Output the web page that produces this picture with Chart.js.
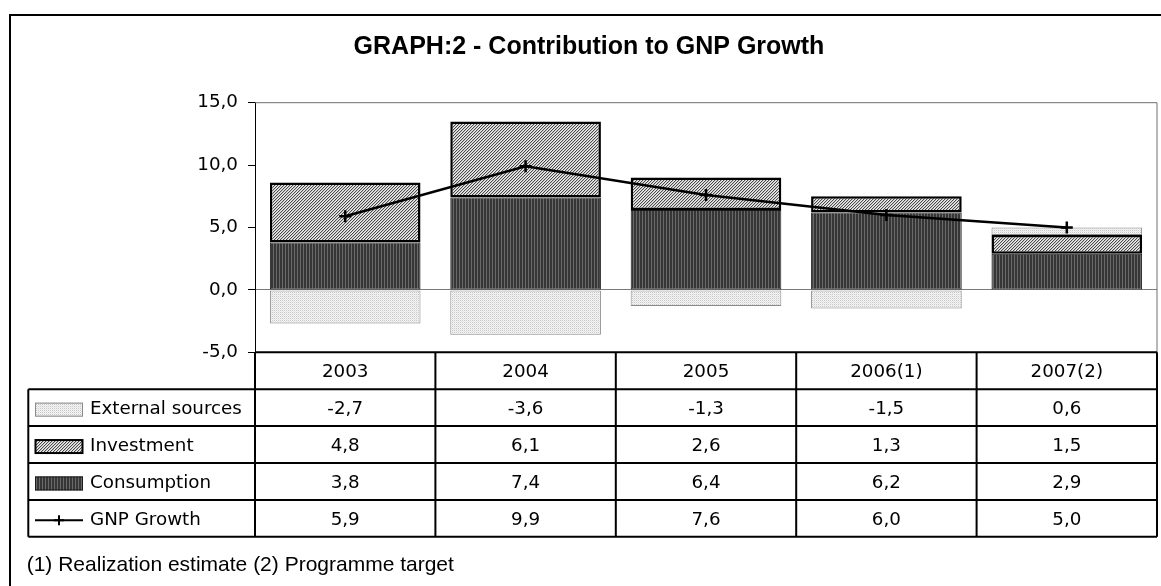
<!DOCTYPE html>
<html>
<head>
<meta charset="utf-8">
<script src="https://cdn.jsdelivr.net/npm/chart.js@4/dist/chart.umd.min.js"></script>
<style>
  html, body { margin: 0; padding: 0; background: #fff; }
  #wrap { position: relative; width: 1161px; height: 586px; }
</style>
</head>
<body>
<div id="wrap"><canvas id="c"></canvas></div>
<script>
// Contribution to GNP growth, percentage points
const categories = ['2003', '2004', '2005', '2006(1)', '2007(2)'];
const externalSources = [-2.7, -3.6, -1.3, -1.5, 0.6];
const investment = [4.8, 6.1, 2.6, 1.3, 1.5];
const consumption = [3.8, 7.4, 6.4, 6.2, 2.9];
const gnpGrowth = [5.9, 9.9, 7.6, 6.0, 5.0];
const yTickValues = [-5, 0, 5, 10, 15];

const chartTitle = 'GRAPH:2 - Contribution to GNP Growth';
const footnote = '(1) Realization estimate (2) Programme target';

const fmt = v => v.toFixed(1).replace('.', ',');
const TABLE_FONT = '18.3px "DejaVu Sans", Verdana, sans-serif';

// small repeating fills in the style of old spreadsheet charts
function pattern(w, h, paint) {
  const c = document.createElement('canvas');
  c.width = w; c.height = h;
  const g = c.getContext('2d');
  paint(g);
  return document.createElement('canvas').getContext('2d').createPattern(c, 'repeat');
}
const px = (g, x, y, col) => { g.fillStyle = col; g.fillRect(x, y, 1, 1); };

const consumptionFill = pattern(3, 1, g => {
  px(g, 0, 0, '#6a6a6a'); px(g, 1, 0, '#363636'); px(g, 2, 0, '#363636');
});
const investmentFill = pattern(3, 3, g => {
  for (let y = 0; y < 3; y++) for (let x = 0; x < 3; x++) {
    const k = (x + y) % 3;
    px(g, x, y, k === 0 ? '#4a4a4a' : k === 1 ? '#c4c4c4' : '#ececec');
  }
});
const externalFill = pattern(2, 2, g => {
  px(g, 0, 0, '#c8c8c8'); px(g, 1, 0, '#f4f4f4');
  px(g, 0, 1, '#f4f4f4'); px(g, 1, 1, '#e6e6e6');
});

const styles = {
  ext: { fill: externalFill, border: '#8a8a8a', bw: 1 },
  inv: { fill: investmentFill, border: '#000', bw: 2.5 },
  con: { fill: consumptionFill, border: '#1a1a1a', bw: 1 }
};

const tableRows = [
  { label: 'External sources', values: externalSources, key: 'ext' },
  { label: 'Investment', values: investment, key: 'inv' },
  { label: 'Consumption', values: consumption, key: 'con' },
  { label: 'GNP Growth', values: gnpGrowth, key: 'line' }
];

function drawCross(ctx, x, y, r) {
  ctx.beginPath();
  ctx.moveTo(x - r, y); ctx.lineTo(x + r, y);
  ctx.moveTo(x, y - r); ctx.lineTo(x, y + r);
  ctx.stroke();
}

const framePlugin = {
  id: 'frameAndTable',
  beforeDraw(chart) {
    const ctx = chart.ctx;
    ctx.save();
    ctx.fillStyle = '#fff';
    ctx.fillRect(0, 0, chart.width, chart.height);
    ctx.restore();
  },
  afterDraw(chart) {
    const ctx = chart.ctx, a = chart.chartArea, xs = chart.scales.x;
    ctx.save();

    // outer frame
    ctx.strokeStyle = '#000';
    ctx.lineWidth = 2;
    ctx.strokeRect(10, 15, 1170, 600);

    // title
    ctx.fillStyle = '#000';
    ctx.font = 'bold 25px "Liberation Sans", Arial, sans-serif';
    ctx.textAlign = 'center';
    ctx.textBaseline = 'middle';
    ctx.fillText(chartTitle, 589, 47);

    // plot area border (top and right)
    ctx.strokeStyle = '#6e6e6e';
    ctx.lineWidth = 1;
    ctx.beginPath();
    ctx.moveTo(a.left, a.top); ctx.lineTo(a.right, a.top); ctx.lineTo(a.right, a.bottom);
    ctx.stroke();

    // data table
    const rowH = 36.9;
    const top = a.bottom;
    const tableLeft = 28.3;
    const half = (xs.getPixelForValue(1) - xs.getPixelForValue(0)) / 2;
    const bottom = top + rowH * (tableRows.length + 1);

    ctx.strokeStyle = '#000';
    ctx.lineWidth = 2;
    ctx.beginPath();
    ctx.moveTo(a.left, top); ctx.lineTo(a.right, top);
    for (let r = 1; r <= tableRows.length + 1; r++) {
      const y = top + rowH * r;
      ctx.moveTo(tableLeft, y); ctx.lineTo(a.right, y);
    }
    ctx.moveTo(tableLeft, top + rowH); ctx.lineTo(tableLeft, bottom);
    ctx.moveTo(a.left, top); ctx.lineTo(a.left, bottom);
    categories.forEach((c, i) => {
      const xr = xs.getPixelForValue(i) + half;
      ctx.moveTo(xr, top); ctx.lineTo(xr, bottom);
    });
    ctx.stroke();

    ctx.font = TABLE_FONT;
    ctx.fillStyle = '#000';
    ctx.textAlign = 'center';
    ctx.textBaseline = 'middle';
    categories.forEach((c, i) => {
      ctx.fillText(c, xs.getPixelForValue(i), top + rowH / 2 + 2);
    });

    tableRows.forEach((row, r) => {
      const cy = top + rowH * (r + 1) + rowH / 2 + 2;
      // legend key
      if (row.key === 'line') {
        ctx.strokeStyle = '#000';
        ctx.lineWidth = 2;
        ctx.beginPath(); ctx.moveTo(35, cy); ctx.lineTo(83, cy); ctx.stroke();
        drawCross(ctx, 59, cy, 5);
      } else {
        const s = styles[row.key];
        ctx.fillStyle = s.fill;
        ctx.fillRect(35, cy - 7, 48, 14);
        ctx.strokeStyle = s.border;
        ctx.lineWidth = s.bw === 1 ? 1 : 2;
        ctx.strokeRect(35.5, cy - 6.5, 47, 13);
      }
      ctx.fillStyle = '#000';
      ctx.textAlign = 'left';
      ctx.fillText(row.label, 90, cy);
      ctx.textAlign = 'center';
      row.values.forEach((v, i) => ctx.fillText(fmt(v), xs.getPixelForValue(i), cy));
    });

    // footnote
    ctx.font = '21px "Liberation Sans", Arial, sans-serif';
    ctx.textAlign = 'left';
    ctx.fillText(footnote, 26.7, 565);
    ctx.restore();
  }
};

new Chart(document.getElementById('c'), {
  data: {
    labels: categories,
    datasets: [
      {
        type: 'line', label: 'GNP Growth', data: gnpGrowth, stack: 'gnp', order: 0,
        borderColor: '#000', borderWidth: 2.5, tension: 0,
        pointStyle: 'cross', pointRadius: 6, pointBorderWidth: 2.5,
        pointBorderColor: '#000', pointBackgroundColor: '#000'
      },
      {
        type: 'bar', label: 'Consumption', data: consumption, stack: 'bars', order: 1,
        backgroundColor: styles.con.fill, borderColor: styles.con.border,
        borderWidth: styles.con.bw, borderSkipped: false
      },
      {
        type: 'bar', label: 'Investment', data: investment, stack: 'bars', order: 1,
        backgroundColor: styles.inv.fill, borderColor: styles.inv.border,
        borderWidth: styles.inv.bw, borderSkipped: false
      },
      {
        type: 'bar', label: 'External sources', data: externalSources, stack: 'bars', order: 1,
        backgroundColor: styles.ext.fill, borderColor: styles.ext.border,
        borderWidth: styles.ext.bw, borderSkipped: false
      }
    ]
  },
  options: {
    responsive: true,
    maintainAspectRatio: false,
    devicePixelRatio: 1,
    animation: false,
    datasets: { bar: { barPercentage: 0.835, categoryPercentage: 1 } },
    layout: { autoPadding: false, padding: { left: 0, top: 102.7, right: 4, bottom: 233.7 } },
    plugins: { legend: { display: false }, tooltip: { enabled: false }, title: { display: false } },
    scales: {
      x: { type: 'category', display: false, stacked: true, offset: true },
      y: {
        type: 'linear', stacked: true, min: -5, max: 15,
        afterBuildTicks: s => { s.ticks = yTickValues.map(v => ({ value: v })); },
        afterFit: s => { s.width = 255; },
        border: { display: true, color: '#000', width: 1 },
        grid: {
          drawOnChartArea: true, drawTicks: true, tickLength: 7,
          color: c => (c.tick && c.tick.value === 0 ? '#7a7a7a' : 'rgba(0,0,0,0)'),
          tickColor: '#000', lineWidth: 1
        },
        ticks: {
          padding: 10, color: '#000',
          font: { family: '"DejaVu Sans", Verdana, sans-serif', size: 18.3 },
          callback: v => fmt(v)
        }
      }
    }
  },
  plugins: [framePlugin]
});
</script>
</body>
</html>
